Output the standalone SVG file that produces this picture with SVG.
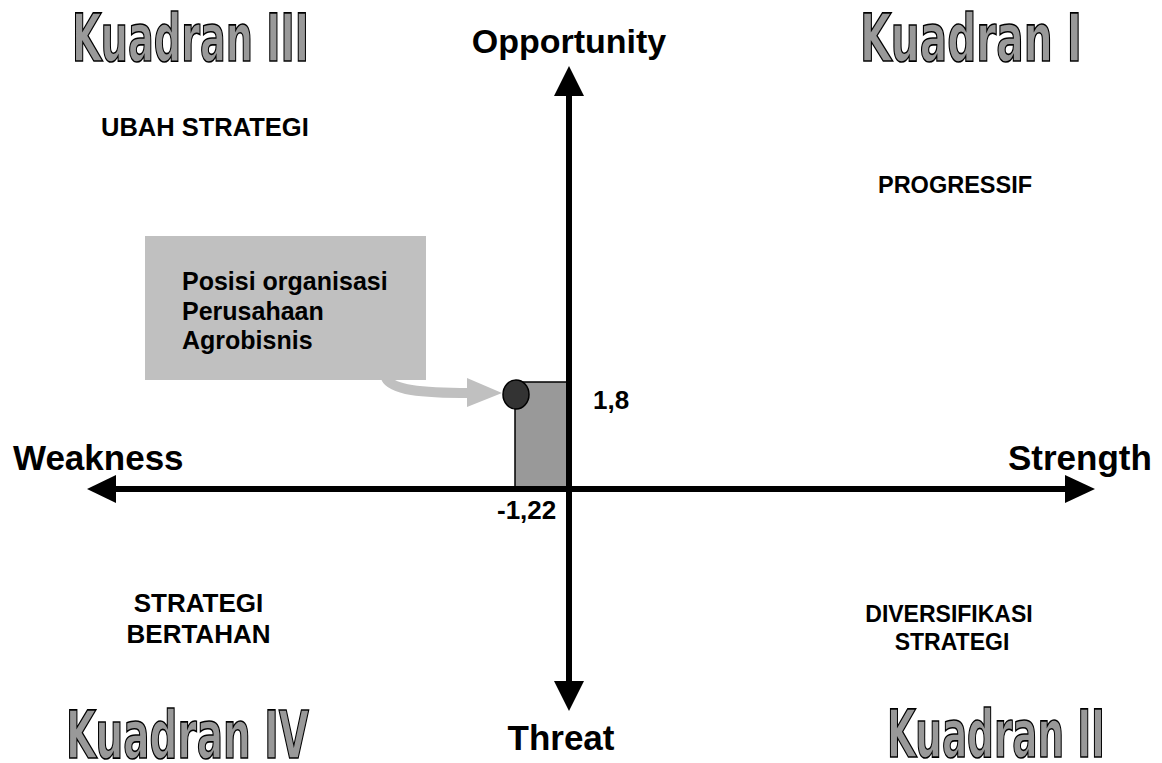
<svg xmlns="http://www.w3.org/2000/svg" width="1162" height="763" viewBox="0 0 1162 763">
<style>
.b{font-family:"Liberation Sans",Arial,sans-serif;font-weight:bold;fill:#000}
.k{font-family:"Liberation Sans Narrow","DejaVu Sans Condensed","Liberation Sans",sans-serif;font-weight:bold;fill:#999999;stroke:#000;stroke-width:1.6;font-size:66px}
.ax{stroke:#000;stroke-width:6;fill:none}
</style>
<rect width="1162" height="763" fill="#fff"/>
<g id="titles">
<text class="k" x="72" y="61" textLength="237" lengthAdjust="spacingAndGlyphs">Kuadran III</text>
<text class="k" x="860" y="61" textLength="222" lengthAdjust="spacingAndGlyphs">Kuadran I</text>
<text class="k" x="66" y="758" textLength="243" lengthAdjust="spacingAndGlyphs">Kuadran IV</text>
<text class="k" x="887" y="757" textLength="218" lengthAdjust="spacingAndGlyphs">Kuadran II</text>
</g>
<g id="position">
<rect x="515" y="382" width="54" height="107" fill="#999999" stroke="#000" stroke-width="1.5"/>
<ellipse cx="516" cy="394.5" rx="13" ry="14.5" fill="#333333" stroke="#000" stroke-width="1.5"/>
</g>
<g id="callout">
<rect x="145" y="236" width="281" height="144" fill="#c0c0c0"/>
<text class="b" font-size="25" x="182" y="290">Posisi organisasi</text>
<text class="b" font-size="25" x="182" y="320">Perusahaan</text>
<text class="b" font-size="25" x="182" y="349">Agrobisnis</text>
</g>
<g id="connectors">
<path d="M386 378 C392 390 420 393 470 393" stroke="#c0c0c0" stroke-width="10" fill="none"/>
<polygon points="467,378 502,393 467,407" fill="#c0c0c0"/>
<line class="ax" x1="569" y1="94" x2="569" y2="683"/>
<line class="ax" x1="114" y1="489" x2="1066" y2="489"/>
<polygon points="569,66 554,96 584,96" fill="#000"/>
<polygon points="569,711 554,681 584,681" fill="#000"/>
<polygon points="87,489 116,475 116,503" fill="#000"/>
<polygon points="1095,489 1065,475 1065,503" fill="#000"/>
</g>
<g id="labels">
<text class="b" font-size="34" x="569" y="53" text-anchor="middle">Opportunity</text>
<text class="b" font-size="35" x="561" y="750" text-anchor="middle">Threat</text>
<text class="b" font-size="35" x="13" y="470">Weakness</text>
<text class="b" font-size="35" x="1008" y="470">Strength</text>
<text class="b" font-size="25.5" x="101" y="136">UBAH STRATEGI</text>
<text class="b" font-size="23.5" x="955" y="193" text-anchor="middle">PROGRESSIF</text>
<text class="b" font-size="26" x="198.5" y="612" text-anchor="middle">STRATEGI</text>
<text class="b" font-size="26" x="198.5" y="643" text-anchor="middle">BERTAHAN</text>
<text class="b" font-size="23" x="949" y="622" text-anchor="middle">DIVERSIFIKASI</text>
<text class="b" font-size="23" x="952" y="650" text-anchor="middle">STRATEGI</text>
<text class="b" font-size="26" x="593" y="409">1,8</text>
<text class="b" font-size="26" x="497" y="519">-1,22</text>
</g>
</svg>
